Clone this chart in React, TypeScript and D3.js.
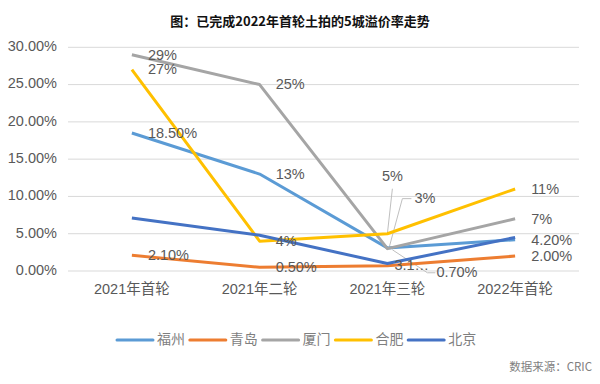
import * as d3 from 'd3';

const categories = ['2021年首轮', '2021年二轮', '2021年三轮', '2022年首轮'];
const cities = ['福州', '青岛', '厦门', '合肥', '北京'];
const colors = ['#5B9BD5', '#ED7D31', '#A5A5A5', '#FFC000', '#4472C4'];

// 溢价率 (%)
const fuzhou = [18.5, 13, 3.1, 4.2];
const qingdao = [2.1, 0.5, 0.7, 2.0];
const xiamen = [29, 25, 3, 7];
const hefei = [27, 4, 5, 11];
const beijing = [7.1, 4.8, 1.0, 4.5];

const fuzhouLabels = ['18.50%', '13%', '3.1…', '4.20%'];
const qingdaoLabels = ['2.10%', '0.50%', '0.70%', '2.00%'];
const xiamenLabels = ['29%', '25%', '3%', '7%'];
const hefeiLabels = ['27%', '4%', '5%', '11%'];
const beijingLabels: (string | null)[] = [null, null, null, null];

const yTicks = [0, 5, 10, 15, 20, 25, 30];

const series = [fuzhou, qingdao, xiamen, hefei, beijing];
const labels = [fuzhouLabels, qingdaoLabels, xiamenLabels, hefeiLabels, beijingLabels];

// label offsets that differ from the default "right of point" placement (series index, point index)
const special: Record<string, { dx: number; dy: number; anchor?: string; leader?: [number, number][] }> = {
  '3-2': { dx: 5, dy: -57, anchor: 'middle', leader: [[5, -45], [0, 0]] },
  '2-2': { dx: 27, dy: -49, leader: [[24, -50], [15, -50], [2, -2]] },
  '0-2': { dx: 7, dy: 18 },
  '1-2': { dx: 49, dy: 7, leader: [[5, -16], [40, 7], [48, 7]] },
};

const W = 600;
const H = 384;
const font = '"Liberation Sans", Arial, "Noto Sans CJK SC", sans-serif';

export default function App() {
  const x = d3.scaleBand<string>().domain(categories).range([68, 579]);
  const cx = (c: string) => (x(c) ?? 0) + x.bandwidth() / 2;
  const y = d3.scaleLinear().domain([0, 30]).range([271, 47.3]);

  const line = d3.line<number>()
    .x((_, i) => cx(categories[i]))
    .y(d => y(d));

  const fmt = d3.format('.2f');

  return (
    <svg width={W} height={H} style={{ position: 'absolute', left: 0, top: 0, background: '#fff' }}>
      <text x={300} y={22} textAnchor="middle" dominantBaseline="middle"
        fontFamily='"Noto Sans CJK SC", sans-serif' fontWeight="bold" fontSize={13} fill="#111">
        图：已完成2022年首轮土拍的5城溢价率走势
      </text>

      {/* 網格與 Y 軸 */}
      {yTicks.map(t => (
        <g key={t}>
          <line x1={68} x2={579} y1={y(t)} y2={y(t)} stroke="#d9d9d9" strokeWidth={1} />
          <text x={57} y={y(t)} textAnchor="end" dominantBaseline="middle"
            fontFamily={font} fontSize={14.5} fill="#595959">
            {fmt(t)}%
          </text>
        </g>
      ))}

      {/* X 軸 */}
      {categories.map(c => (
        <text key={c} x={cx(c)} y={290} textAnchor="middle" dominantBaseline="middle"
          fontFamily={font} fontSize={14.5} fill="#595959">
          {c}
        </text>
      ))}

      {/* leader lines */}
      {series.map((s, si) => s.map((v, i) => {
        const sp = special[`${si}-${i}`];
        if (!sp || !sp.leader) return null;
        const px = cx(categories[i]);
        const py = y(v);
        const pts = sp.leader.map(([a, b]) => `${px + a},${py + b}`).join(' ');
        return <polyline key={`l${si}-${i}`} points={pts} fill="none" stroke="#bfbfbf" strokeWidth={1} />;
      }))}

      {/* 折線 */}
      {series.map((s, si) => (
        <path key={cities[si]} d={line(s) ?? ''} fill="none" stroke={colors[si]}
          strokeWidth={3} strokeLinejoin="round" />
      ))}

      {/* 數據標籤 */}
      {series.map((s, si) => s.map((v, i) => {
        const txt = labels[si][i];
        if (!txt) return null;
        const sp = special[`${si}-${i}`] ?? { dx: 16, dy: 1 };
        return (
          <text key={`t${si}-${i}`} x={cx(categories[i]) + sp.dx} y={y(v) + sp.dy}
            textAnchor={sp.anchor ?? 'start'} dominantBaseline="middle"
            fontFamily={font} fontSize={14.5} fill="#595959">
            {txt}
          </text>
        );
      }))}

      {/* 圖例 */}
      {cities.map((c, i) => {
        const lx = 117 + i * 72.8;
        return (
          <g key={c}>
            <line x1={lx} x2={lx + 36} y1={340} y2={340} stroke={colors[i]} strokeWidth={3} strokeLinecap="round" />
            <text x={lx + 40} y={340} dominantBaseline="middle"
              fontFamily='"Noto Sans CJK SC", serif' fontSize={14} fill="#7f7f7f">
              {c}
            </text>
          </g>
        );
      })}

      <text x={592} y={368} textAnchor="end" dominantBaseline="middle"
        fontFamily='"Noto Sans CJK SC", sans-serif' fontSize={11.5} fill="#7f7f7f">
        数据来源：CRIC
      </text>
    </svg>
  );
}
